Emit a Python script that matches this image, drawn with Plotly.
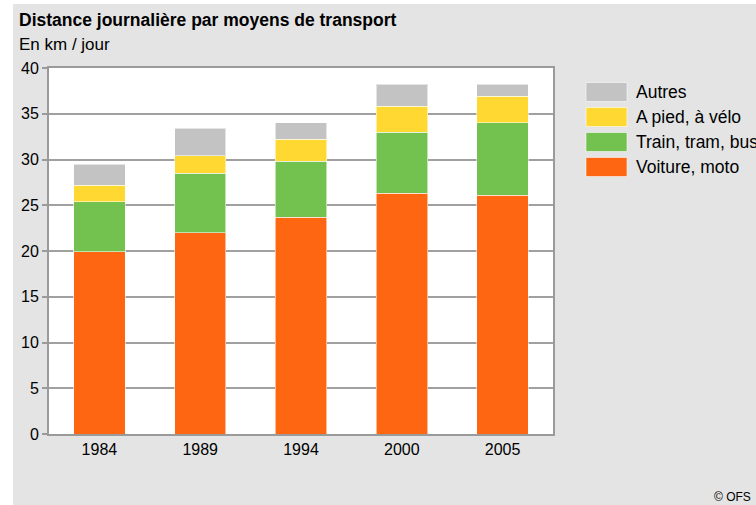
import plotly.graph_objects as go

years = ["1984", "1989", "1994", "2000", "2005"]
voiture = [19.9, 22.0, 23.7, 26.3, 26.1]
train = [5.5, 6.5, 6.1, 6.7, 7.9]
pied = [1.8, 1.9, 2.4, 2.8, 2.9]
autres = [2.3, 3.0, 1.8, 2.4, 1.3]

series_names = ["Voiture, moto", "Train, tram, bus", "A pied, à vélo", "Autres"]
series_values = [voiture, train, pied, autres]
series_colors = ["#FF6611", "#73C14F", "#FFD932", "#C3C3C3"]

title_text = "Distance journalière par moyens de transport"
subtitle_text = "En km / jour"
credit_text = "© OFS"

W, H = 756, 505
L, R, T, B = 49, 203, 68, 71
PW, PH = W - L - R, H - T - B


def px(x):
    return (x - L) / PW


def py(y):
    return (H - B - y) / PH


FONT = "Liberation Sans, Arial, sans-serif"

fig = go.Figure()
for name, vals, col in zip(series_names, series_values, series_colors):
    fig.add_trace(go.Bar(
        x=years, y=vals, name=name,
        marker=dict(color=col, line=dict(color="rgba(255,255,255,0.55)", width=1)),
        showlegend=False,
    ))

shapes = [
    # white margins on the left and top of the image
    dict(type="rect", xref="paper", yref="paper", x0=px(0), x1=px(13), y0=py(H), y1=py(0),
         fillcolor="white", line=dict(width=0), layer="below"),
    dict(type="rect", xref="paper", yref="paper", x0=px(0), x1=px(W), y0=py(4), y1=py(0),
         fillcolor="white", line=dict(width=0), layer="below"),
]
annotations = [
    dict(text="<b>" + title_text + "</b>", xref="paper", yref="paper", x=px(17), y=py(8),
         xanchor="left", yanchor="top", showarrow=False,
         font=dict(family=FONT, size=17.5, color="black")),
    dict(text=subtitle_text, xref="paper", yref="paper", x=px(17), y=py(33),
         xanchor="left", yanchor="top", showarrow=False,
         font=dict(family=FONT, size=17, color="black")),
    dict(text=credit_text, xref="paper", yref="paper", x=px(712), y=py(497),
         xanchor="left", yanchor="middle", showarrow=False,
         font=dict(family=FONT, size=12, color="black")),
]

# legend drawn manually (top item = last series)
for k, i in enumerate(reversed(range(len(series_names)))):
    yc = 92 + k * 25
    shapes.append(dict(type="rect", xref="paper", yref="paper",
                       x0=px(586), x1=px(627), y0=py(yc - 9.5), y1=py(yc + 9.5),
                       fillcolor=series_colors[i],
                       line=dict(color="rgba(255,255,255,0.55)", width=1)))
    annotations.append(dict(text=series_names[i], xref="paper", yref="paper",
                            x=px(634), y=py(yc), xanchor="left", yanchor="middle",
                            showarrow=False, font=dict(family=FONT, size=17.5, color="black")))

fig.update_layout(
    width=W, height=H,
    margin=dict(l=L, r=R, t=T, b=B, autoexpand=False),
    paper_bgcolor="#E4E4E4",
    plot_bgcolor="white",
    barmode="stack",
    bargap=0.49,
    showlegend=False,
    shapes=shapes,
    annotations=annotations,
    font=dict(family=FONT, size=16, color="black"),
    xaxis=dict(showgrid=False, showline=True, mirror=True, linecolor="#9A9A9A", linewidth=2,
               ticks="", tickfont=dict(size=16), fixedrange=True),
    yaxis=dict(range=[0, 40], dtick=5, showgrid=True, gridcolor="#A0A0A0", gridwidth=1.5,
               showline=True, mirror=True, linecolor="#9A9A9A", linewidth=2,
               ticks="outside", ticklen=5, tickcolor="#9A9A9A", tickwidth=1.5,
               tickfont=dict(size=16), zeroline=False, fixedrange=True),
)

fig.write_html("out.html", config={"displayModeBar": False},
               post_script="document.body.style.margin='0';")
